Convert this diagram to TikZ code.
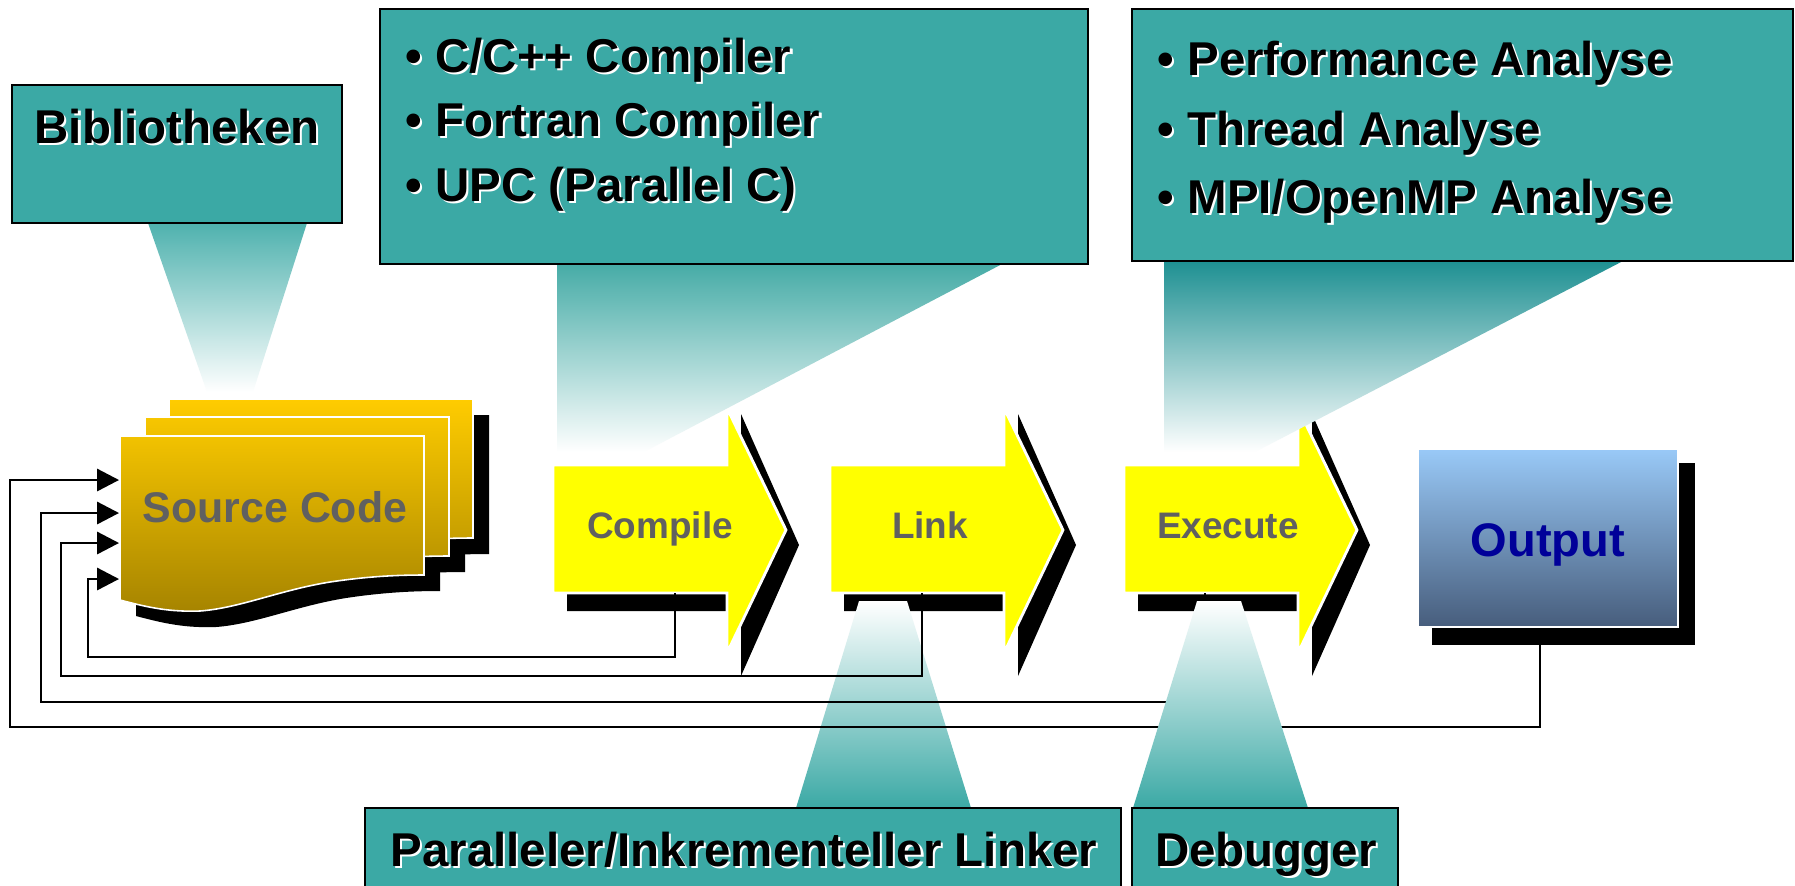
\documentclass[tikz,border=0pt]{standalone}
\usepackage{fontspec}
\setmainfont{Liberation Sans}
\usetikzlibrary{arrows.meta}

\definecolor{boxteal}{HTML}{3BA9A5}
\definecolor{beamteal}{HTML}{45ABA6}
\definecolor{deepteal}{HTML}{1E9092}
\definecolor{stageyellow}{HTML}{FFFF00}
\definecolor{labelgray}{HTML}{606060}
\definecolor{outtop}{HTML}{99C9F7}
\definecolor{outbot}{HTML}{475D7C}
\definecolor{outtext}{HTML}{000099}
\definecolor{goldA}{HTML}{FFCC00}
\definecolor{goldB}{HTML}{B89300}
\definecolor{goldC}{HTML}{F7C600}
\definecolor{goldD}{HTML}{AE8B00}
\definecolor{goldE}{HTML}{F2C200}
\definecolor{goldF}{HTML}{A68400}

% black lettering with a light offset copy underneath
\newcommand\embossed[1]{\leavevmode\rlap{\kern0.6pt\raisebox{-0.6pt}{\textcolor{white}{#1}}}#1}

% outline of one source-code sheet (front position)
\def\sheetoutline{(120,436) -- (424,436) -- (424,575)
  .. controls (400,575) and (370,576) .. (330,582)
  .. controls (280,590) and (240,608) .. (200,611)
  .. controls (170,612) and (150,608) .. (120,600) -- cycle}

\tikzset{
  infobox/.style={fill=boxteal, draw=black, line width=0.75pt},
  boxtext/.style={font=\bfseries\fontsize{13.5}{16}\selectfont, inner sep=0pt},
  steplabel/.style={font=\bfseries\fontsize{10.5}{12}\selectfont, text=labelgray, inner sep=0pt},
  fb/.style={line width=0.6pt, line join=miter, -{Triangle[length=6.2pt,width=6.3pt]}},
  sheetedge/.style={draw=white, line width=0.45pt},
  stagearrow/.pic={
    \fill[black] (14,480) -- (188,480) -- (188,414) -- (246,545) -- (188,676)
      -- (188,611) -- (14,611) -- cycle;
    \filldraw[fill=stageyellow, draw=white, line width=0.8pt]
      (0,465) -- (174,465) -- (174,408) -- (233,530) -- (174,653)
      -- (174,593) -- (0,593) -- cycle;
  }
}

\begin{document}
\begin{tikzpicture}[x=0.1mm, y=-0.1mm]
\useasboundingbox (0,0) rectangle (1795,885);
\clip (0,0) rectangle (1795,885);
\fill[white] (0,0) rectangle (1795,885);

% ---- source code stack: shadows first, then sheets back to front
\fill[black, shift={(65,-21)}] \sheetoutline;
\fill[black, shift={(41,-3)}] \sheetoutline;
\fill[black, shift={(16,16)}] \sheetoutline;
\shadedraw[top color=goldA, bottom color=goldB, sheetedge, shift={(49,-37)}] \sheetoutline;
\shadedraw[top color=goldC, bottom color=goldD, sheetedge, shift={(25,-19)}] \sheetoutline;
\shadedraw[top color=goldE, bottom color=goldF, sheetedge] \sheetoutline;
\node[font=\bfseries\fontsize{12.2}{14}\selectfont, text=labelgray, inner sep=0pt, anchor=base]
  (src) at (275,522) {Source Code};

% ---- processing stages
\pic (cmp) at (553,0) {stagearrow};
\pic (lnk) at (830,0) {stagearrow};
\pic (exe) at (1124,0) {stagearrow};
\node[steplabel, anchor=base] (compile) at (660,538) {Compile};
\node[steplabel, anchor=base] (link) at (930,538) {Link};
\node[steplabel, anchor=base] (execute) at (1228,538) {Execute};

% ---- output box
\fill[black] (1432,463) rectangle (1695,645);
\shadedraw[top color=outtop, bottom color=outbot, draw=white, line width=0.4pt]
  (1418,449) rectangle (1678,627);
\node[font=\bfseries\fontsize{13.4}{16}\selectfont, text=outtext, inner sep=0pt, anchor=base]
  (output) at (1548,556) {Output};

% ---- attachment points
\coordinate (cmp-foot) at (675,593);
\coordinate (lnk-foot) at (922,593);
\coordinate (exe-foot) at (1205,593);
\coordinate (out-foot) at (1540,645);
\coordinate (src-in1) at (119,480);
\coordinate (src-in2) at (119,513);
\coordinate (src-in3) at (119,543);
\coordinate (src-in4) at (119,579);

% ---- linker beam (below the feedback lines)
\shade[top color=white, bottom color=boxteal]
  (859,601) -- (907,601) -- (971,808) -- (796,808) -- cycle;

% ---- feedback loops back to the source code
\draw[fb] (out-foot) |- (10,727) |- (src-in1);
\draw[fb] (exe-foot) |- (41,702) |- (src-in2);
\draw[fb] (lnk-foot) |- (61,676) |- (src-in3);
\draw[fb] (cmp-foot) |- (88,657) |- (src-in4);

% ---- debugger beam (covers the loops)
\shade[top color=white, bottom color=boxteal]
  (1197,601) -- (1241,601) -- (1308,808) -- (1133,808) -- cycle;

% ---- beams from the upper tool boxes
\shade[top color=boxteal!90!white, bottom color=white]
  (148,223) -- (307,223) -- (253,392) -- (207,392) -- cycle;
\shade[top color=beamteal, bottom color=white]
  (557,263) -- (1004,263) -- (644,452) -- (557,452) -- cycle;
\shade[top color=deepteal, bottom color=white]
  (1164,261) -- (1623,261) -- (1255,452) -- (1164,452) -- cycle;

% ---- tool boxes
\draw[infobox] (12,85) rectangle (342,223);
\node[boxtext, anchor=base] (bib) at (177,143) {\embossed{Bibliotheken}};

\draw[infobox] (380,9) rectangle (1088,264);
\node[boxtext, anchor=base west] (cc1) at (405,72) {\embossed{• C/C++ Compiler}};
\node[boxtext, anchor=base west] (cc2) at (405,136) {\embossed{• Fortran Compiler}};
\node[boxtext, anchor=base west] (cc3) at (405,201) {\embossed{• UPC (Parallel C)}};

\draw[infobox] (1132,9) rectangle (1793,261);
\node[boxtext, anchor=base west] (an1) at (1157,75) {\embossed{• Performance Analyse}};
\node[boxtext, anchor=base west] (an2) at (1157,145) {\embossed{• Thread Analyse}};
\node[boxtext, anchor=base west] (an3) at (1157,213) {\embossed{• MPI/OpenMP Analyse}};

\draw[infobox] (365,808) rectangle (1121,900);
\node[boxtext, anchor=base] (linker) at (744,866) {\embossed{Paralleler/Inkrementeller Linker}};

\draw[infobox] (1132,808) rectangle (1398,900);
\node[boxtext, anchor=base] (debugger) at (1266,866) {\embossed{Debugger}};
\end{tikzpicture}
\end{document}
